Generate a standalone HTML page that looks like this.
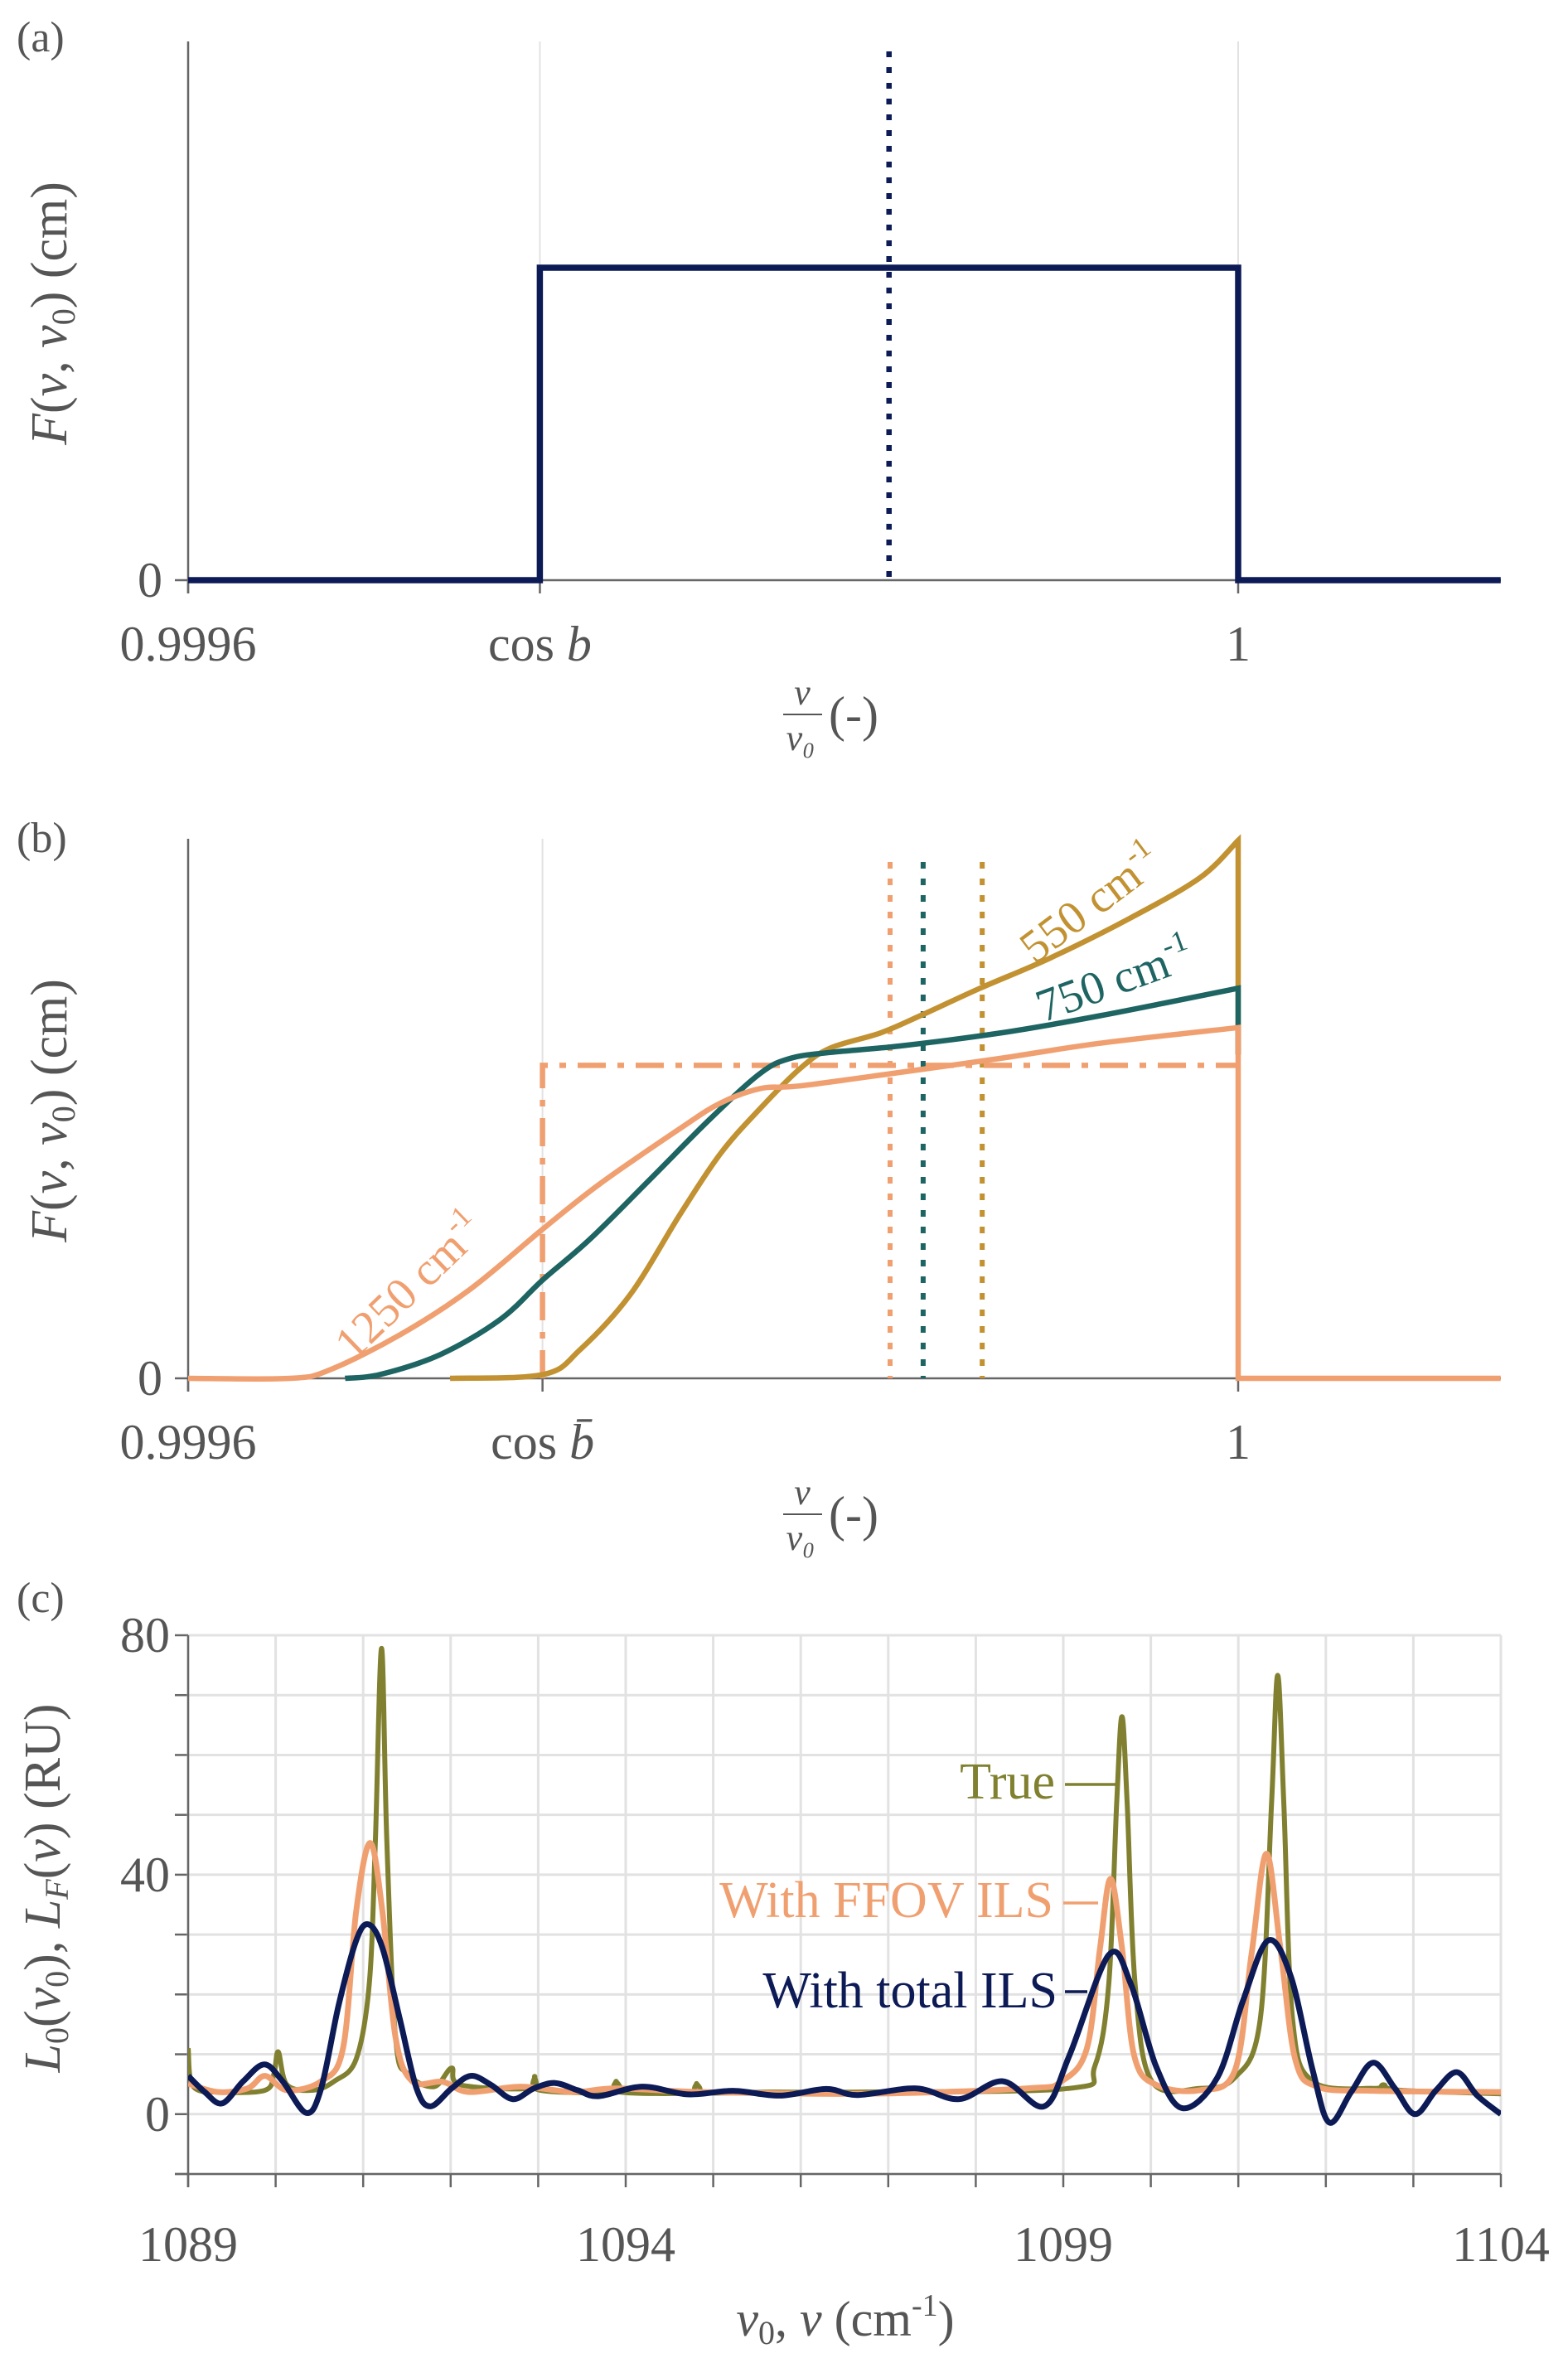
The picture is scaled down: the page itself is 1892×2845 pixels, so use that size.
<!DOCTYPE html>
<html><head><meta charset="utf-8">
<style>
html,body{margin:0;padding:0;background:#fff;}
svg{display:block;}
text{font-family:"Liberation Serif",serif;fill:#555;}
</style></head>
<body>
<svg id="fig" width="1892" height="2845" viewBox="0 0 1892 2845" xmlns="http://www.w3.org/2000/svg">
<g id="pa"></g>
<g id="pb"></g>
<g id="pc"></g>
</svg>
<script>
// ---------- Panel (a) data (x in units of 1e-4 offset from 1) ----------
const aBoxX = [-4, -2.66, -2.66, 0, 0, 1];
const aBoxY = [0, 0, 0.58, 0.58, 0, 0];
const aMeanX = [-1.33];
// ---------- Panel (b) data ----------
const b1250X = [-4, -3.611, -3.459, -3.192, -2.926, -2.648, -2.430, -2.126, -1.973, -1.821, -1.669, -1.288, -0.907, -0.526, 0];
const b1250Y = [0, 0, 0.016, 0.081, 0.165, 0.277, 0.361, 0.463, 0.510, 0.537, 0.542, 0.567, 0.593, 0.621, 0.650];
const b750X = [-3.402, -3.269, -3.040, -2.811, -2.648, -2.469, -2.240, -2.011, -1.821, -1.707, -1.554, -1.288, -0.907, -0.526, 0];
const b750Y = [0, 0.007, 0.044, 0.109, 0.183, 0.258, 0.369, 0.481, 0.565, 0.593, 0.604, 0.616, 0.640, 0.672, 0.723];
const b550X = [-3.002, -2.648, -2.507, -2.316, -2.126, -1.973, -1.821, -1.669, -1.554, -1.364, -1.211, -0.983, -0.716, -0.411, -0.145, 0];
const b550Y = [0, 0.007, 0.053, 0.155, 0.304, 0.416, 0.500, 0.574, 0.612, 0.640, 0.672, 0.723, 0.779, 0.853, 0.928, 0.997];
const bMeanX = [-1.326, -1.200, -0.975];
const bBoxX = [-2.65, -2.65, 0];
const bBoxY = [0, 0.58, 0.58];
// ---------- Panel (c) data ----------
const cTotalX = [1089, 1089.19, 1089.39, 1089.63, 1089.87, 1090.08, 1090.35, 1090.52, 1090.72, 1090.92, 1091.06, 1091.22, 1091.42, 1091.61, 1091.77, 1092.01, 1092.23, 1092.46, 1092.71, 1092.95, 1093.19, 1093.45, 1093.69, 1094.19, 1094.71, 1095.23, 1095.76, 1096.29, 1096.65, 1097.32, 1097.81, 1098.31, 1098.78, 1099.07, 1099.52, 1099.77, 1100.06, 1100.36, 1100.76, 1101.05, 1101.34, 1101.60, 1101.85, 1102.04, 1102.29, 1102.54, 1102.79, 1103.02, 1103.26, 1103.50, 1103.73, 1104];
const cTotalY = [6.4, 3.7, 1.8, 5.5, 8.3, 5.5, 0.2, 4.3, 18.2, 29, 31.7, 27.8, 15.8, 4.3, 1.3, 4.3, 6.4, 4.9, 2.5, 4.3, 5.2, 4.0, 3.0, 4.6, 3.3, 3.9, 3.1, 4.2, 3.2, 4.3, 2.5, 5.5, 1.3, 9.8, 26.6, 21.8, 8.0, 1.0, 6.1, 18.8, 29, 23, 7.3, -1.4, 3.7, 8.6, 4.3, 0, 4.0, 7.0, 3.1, 0];
const cFfovX = [1089, 1089.34, 1089.68, 1089.88, 1090.13, 1090.52, 1090.77, 1090.92, 1091.08, 1091.22, 1091.37, 1091.56, 1091.91, 1092.21, 1092.80, 1093.40, 1093.89, 1094.88, 1096.70, 1098.58, 1098.98, 1099.27, 1099.42, 1099.54, 1099.67, 1099.81, 1100.06, 1100.56, 1100.96, 1101.15, 1101.32, 1101.48, 1101.65, 1101.90, 1102.54, 1104];
const cFfovY = [5.1, 3.7, 4.3, 6.4, 4.0, 5.5, 11, 33.9, 45.3, 33.9, 12.8, 5.5, 5.4, 3.7, 4.6, 3.7, 4.3, 3.7, 3.4, 4.3, 5.5, 11, 27.8, 39.3, 27.8, 9.8, 4.9, 4.0, 7.3, 26.6, 43.5, 27.8, 9.2, 4.6, 3.9, 3.7];
const cTrueX = [1089, 1089.06, 1089.39, 1089.88, 1089.98, 1090.03, 1090.13, 1090.43, 1090.67, 1090.92, 1091.07, 1091.14, 1091.21, 1091.27, 1091.37, 1091.51, 1091.81, 1092.01, 1092.11, 1092.90, 1092.96, 1093.02, 1093.87, 1093.89, 1093.94, 1094.78, 1094.81, 1094.86, 1095.65, 1096.70, 1099.07, 1099.36, 1099.52, 1099.61, 1099.67, 1099.73, 1099.82, 1100.01, 1100.56, 1100.96, 1101.25, 1101.38, 1101.45, 1101.52, 1101.62, 1101.85, 1102.54, 1102.66, 1102.84, 1104];
const cTrueY = [11, 4.6, 3.7, 4.0, 6.7, 10.4, 4.9, 4.0, 5.5, 9.2, 21.8, 45.9, 77.8, 45.9, 12.8, 6.7, 4.6, 7.7, 4.9, 4.3, 6.3, 4.0, 3.7, 5.5, 3.7, 3.6, 5.1, 3.6, 3.7, 3.7, 4.3, 8.0, 21.8, 51.9, 66.4, 51.9, 21.8, 5.5, 4.3, 6.1, 15.8, 51.9, 73.3, 51.9, 15.8, 5.5, 4.3, 4.9, 4.0, 3.4];
const cXTicks = [1089, 1094, 1099, 1104];
const cYTicks = [0, 40, 80];

const NS = "http://www.w3.org/2000/svg";
function mk(parent, tag, attrs, txt) {
  const e = document.createElementNS(NS, tag);
  for (const k in attrs) e.setAttribute(k, attrs[k]);
  if (txt !== undefined) e.textContent = txt;
  parent.appendChild(e);
  return e;
}
function smoothPath(xs, ys, sx, sy) {
  const p = xs.map((x, i) => [sx(x), sy(ys[i])]);
  let d = "M" + p[0][0].toFixed(1) + "," + p[0][1].toFixed(1);
  for (let i = 0; i < p.length - 1; i++) {
    const p0 = p[i - 1] || p[i], p1 = p[i], p2 = p[i + 1], p3 = p[i + 2] || p2;
    const c1x = p1[0] + (p2[0] - p0[0]) / 6, c1y = p1[1] + (p2[1] - p0[1]) / 6;
    const c2x = p2[0] - (p3[0] - p1[0]) / 6, c2y = p2[1] - (p3[1] - p1[1]) / 6;
    d += " C" + c1x.toFixed(1) + "," + c1y.toFixed(1) + " " + c2x.toFixed(1) + "," + c2y.toFixed(1) + " " + p2[0].toFixed(1) + "," + p2[1].toFixed(1);
  }
  return d;
}
function linePath(xs, ys, sx, sy) {
  return xs.map((x, i) => (i ? "L" : "M") + sx(x).toFixed(1) + "," + sy(ys[i]).toFixed(1)).join(" ");
}
const AX = "#666", GRID = "#e2e2e2";
const NAVY = "#0c1a56", ORANGE = "#f0a070", TEAL = "#1d6462", GOLD = "#c29232", OLIVE = "#808030";
const L = 227, R = 1811;
const sxAB = u => L + (u + 4) * 316.75;

// ================= Panel A =================
(function () {
  const g = document.getElementById('pa');
  const y0 = 700, yTop = 50;
  const sy = v => y0 - v * (y0 - yTop);
  let e;
  [-2.66, 0].forEach(u => {
    e = mk(g, 'line', {x1: sxAB(u), x2: sxAB(u), y1: yTop, y2: y0, stroke: GRID, 'stroke-width': 2});
    
    
  });
  e = mk(g, 'line', {x1: L, x2: L, y1: yTop, y2: y0 + 16, stroke: AX, 'stroke-width': 2.5});
  
  
  e = mk(g, 'line', {x1: L - 16, x2: R, y1: y0, y2: y0, stroke: AX, 'stroke-width': 2.5});
  
  
  [[-4, '0.9996'], [-2.66, 'cos b'], [0, '1']].forEach(t => {
    e = mk(g, 'line', {x1: sxAB(t[0]), x2: sxAB(t[0]), y1: y0, y2: y0 + 16, stroke: AX, 'stroke-width': 2.5});
    
    
  });
  e = mk(g, 'text', {x: sxAB(-4), y: 797, 'font-size': 60, 'text-anchor': 'middle'}, '0.9996');
  
  
  e = mk(g, 'text', {x: sxAB(-2.66), y: 797, 'font-size': 60, 'text-anchor': 'middle'});
  e.innerHTML = 'cos <tspan font-style="italic">b</tspan>';
  
  
  e = mk(g, 'text', {x: sxAB(0), y: 797, 'font-size': 60, 'text-anchor': 'middle'}, '1');
  
  
  e = mk(g, 'text', {x: 196, y: y0 + 20, 'font-size': 60, 'text-anchor': 'end'}, '0');
  
  
  e = mk(g, 'text', {x: 20, y: 62, 'font-size': 52}, '(a)');
  
  
  e = mk(g, 'text', {x: 0, y: 0, 'font-size': 62, 'text-anchor': 'middle', transform: 'translate(80,378) rotate(-90)'});
  e.innerHTML = '<tspan font-style="italic">F</tspan>(<tspan font-style="italic">v</tspan>, <tspan font-style="italic">v</tspan><tspan font-size="40" dy="10">0</tspan><tspan dy="-10">)  (cm)</tspan>';
  
  
  const xt = mk(g, 'g', {});
  
  
  mk(xt, 'text', {x: 968, y: 850, 'font-size': 44, 'font-style': 'italic', 'text-anchor': 'middle'}, 'v');
  mk(xt, 'line', {x1: 945, x2: 992, y1: 862, y2: 862, stroke: '#555', 'stroke-width': 2});
  mk(xt, 'text', {x: 966, y: 905, 'font-size': 44, 'font-style': 'italic', 'text-anchor': 'middle'}, 'v₀');
  mk(xt, 'text', {x: 1030, y: 882, 'font-size': 60, 'text-anchor': 'middle'}, '(-)');
  e = mk(g, 'line', {x1: sxAB(aMeanX[0]), x2: sxAB(aMeanX[0]), y1: yTop + 12, y2: y0, stroke: NAVY, 'stroke-width': 6.5, 'stroke-dasharray': '7,12'});
  
  
  e = mk(g, 'path', {d: linePath(aBoxX, aBoxY, sxAB, sy), fill: 'none', stroke: NAVY, 'stroke-width': 7.5});
  
  
})();

// ================= Panel B =================
(function () {
  const g = document.getElementById('pb');
  const y0 = 1663, yTop = 1012;
  const sy = v => y0 - v * (y0 - yTop);
  let e;
  [-2.65, 0].forEach(u => {
    e = mk(g, 'line', {x1: sxAB(u), x2: sxAB(u), y1: yTop, y2: y0, stroke: GRID, 'stroke-width': 2});
    
    
  });
  e = mk(g, 'line', {x1: L, x2: L, y1: yTop, y2: y0 + 16, stroke: AX, 'stroke-width': 2.5});
  
  
  e = mk(g, 'line', {x1: L - 16, x2: R, y1: y0, y2: y0, stroke: AX, 'stroke-width': 2.5});
  
  
  [-4, -2.65, 0].forEach(u => {
    e = mk(g, 'line', {x1: sxAB(u), x2: sxAB(u), y1: y0, y2: y0 + 16, stroke: AX, 'stroke-width': 2.5});
    
    
  });
  e = mk(g, 'text', {x: sxAB(-4), y: 1760, 'font-size': 60, 'text-anchor': 'middle'}, '0.9996');
  
  
  e = mk(g, 'text', {x: sxAB(-2.65), y: 1760, 'font-size': 60, 'text-anchor': 'middle'});
  e.innerHTML = 'cos <tspan font-style="italic">b̄</tspan>';
  
  
  e = mk(g, 'text', {x: sxAB(0), y: 1760, 'font-size': 60, 'text-anchor': 'middle'}, '1');
  
  
  e = mk(g, 'text', {x: 196, y: y0 + 20, 'font-size': 60, 'text-anchor': 'end'}, '0');
  
  
  e = mk(g, 'text', {x: 20, y: 1028, 'font-size': 52}, '(b)');
  
  
  e = mk(g, 'text', {x: 0, y: 0, 'font-size': 62, 'text-anchor': 'middle', transform: 'translate(80,1340) rotate(-90)'});
  e.innerHTML = '<tspan font-style="italic">F</tspan>(<tspan font-style="italic">v</tspan>, <tspan font-style="italic">v</tspan><tspan font-size="40" dy="10">0</tspan><tspan dy="-10">)  (cm)</tspan>';
  
  
  const xt = mk(g, 'g', {});
  
  
  mk(xt, 'text', {x: 968, y: 1815, 'font-size': 44, 'font-style': 'italic', 'text-anchor': 'middle'}, 'v');
  mk(xt, 'line', {x1: 945, x2: 992, y1: 1827, y2: 1827, stroke: '#555', 'stroke-width': 2});
  mk(xt, 'text', {x: 966, y: 1870, 'font-size': 44, 'font-style': 'italic', 'text-anchor': 'middle'}, 'v₀');
  mk(xt, 'text', {x: 1030, y: 1847, 'font-size': 60, 'text-anchor': 'middle'}, '(-)');

  const meanCols = [ORANGE, TEAL, GOLD];
  bMeanX.forEach((u, i) => {
    e = mk(g, 'line', {x1: sxAB(u), x2: sxAB(u), y1: yTop + 28, y2: y0, stroke: meanCols[i], 'stroke-width': 6, 'stroke-dasharray': '8,12'});
    
    
  });
  e = mk(g, 'path', {d: linePath(bBoxX, bBoxY, sxAB, sy), fill: 'none', stroke: ORANGE, 'stroke-width': 6.5, 'stroke-dasharray': '34,14,8,14'});
  
  
  e = mk(g, 'path', {d: smoothPath(b550X, b550Y, sxAB, sy) + ' L' + sxAB(0) + ',' + sy(0.6), fill: 'none', stroke: GOLD, 'stroke-width': 6.5});
  
  
  e = mk(g, 'path', {d: smoothPath(b750X, b750Y, sxAB, sy) + ' L' + sxAB(0) + ',' + sy(0.6), fill: 'none', stroke: TEAL, 'stroke-width': 6.5});
  
  
  e = mk(g, 'path', {d: smoothPath(b1250X, b1250Y, sxAB, sy) + ' L' + sxAB(0) + ',' + sy(0) + ' L' + sxAB(1) + ',' + sy(0), fill: 'none', stroke: ORANGE, 'stroke-width': 6.5});
  
  
  const lab = [['550 cm', GOLD, 1327, 1105, -37, 'label-550'], ['750 cm', TEAL, 1351, 1200, -20, 'label-750'], ['1250 cm', ORANGE, 507, 1565, -44, 'label-1250']];
  lab.forEach(l => {
    e = mk(g, 'text', {x: 0, y: 0, 'font-size': 56, 'text-anchor': 'middle', transform: 'translate(' + l[2] + ',' + l[3] + ') rotate(' + l[4] + ')', style: 'fill:' + l[1]});
    e.innerHTML = l[0] + '<tspan font-size="36" dy="-24">-1</tspan>';
    
    
  });
})();

// ================= Panel C =================
(function () {
  const g = document.getElementById('pc');
  const yMin = -10, yMax = 80, yB = 2623, yT = 1973;
  const sx = x => L + (x - 1089) / 15 * (R - L);
  const sy = v => yB - (v - yMin) / (yMax - yMin) * (yB - yT);
  let e;
  for (let v = -10; v <= 80; v += 10) {
    e = mk(g, 'line', {x1: L, x2: R, y1: sy(v), y2: sy(v), stroke: GRID, 'stroke-width': 3});
    
    
    e = mk(g, 'line', {x1: L - 16, x2: L, y1: sy(v), y2: sy(v), stroke: AX, 'stroke-width': 2.5});
    
    
  }
  for (let x = 1089; x <= 1104; x++) {
    e = mk(g, 'line', {x1: sx(x), x2: sx(x), y1: yT, y2: yB, stroke: GRID, 'stroke-width': 3});
    
    
    e = mk(g, 'line', {x1: sx(x), x2: sx(x), y1: yB, y2: yB + 16, stroke: AX, 'stroke-width': 2.5});
    
    
  }
  e = mk(g, 'line', {x1: L, x2: L, y1: yT, y2: yB + 16, stroke: AX, 'stroke-width': 2.5});
  
  
  e = mk(g, 'line', {x1: L - 16, x2: R, y1: yB, y2: yB, stroke: AX, 'stroke-width': 2.5});
  
  
  cXTicks.forEach(t => {
    e = mk(g, 'text', {x: sx(t), y: 2728, 'font-size': 60, 'text-anchor': 'middle'}, String(t));
    
    
  });
  cYTicks.forEach(t => {
    e = mk(g, 'text', {x: 205, y: sy(t) + 20, 'font-size': 60, 'text-anchor': 'end'}, String(t));
    
    
  });
  e = mk(g, 'text', {x: 20, y: 1945, 'font-size': 52}, '(c)');
  
  
  e = mk(g, 'text', {x: 0, y: 0, 'font-size': 62, 'text-anchor': 'middle', transform: 'translate(72,2278) rotate(-90)'});
  e.innerHTML = '<tspan font-style="italic">L</tspan><tspan font-size="40" dy="10">0</tspan><tspan dy="-10">(</tspan><tspan font-style="italic">v</tspan><tspan font-size="40" dy="10">0</tspan><tspan dy="-10">), </tspan><tspan font-style="italic">L</tspan><tspan font-size="40" dy="10" font-style="italic">F</tspan><tspan dy="-10">(</tspan><tspan font-style="italic">v</tspan>)  (RU)';
  
  
  e = mk(g, 'text', {x: 1020, y: 2818, 'font-size': 60, 'text-anchor': 'middle'});
  e.innerHTML = '<tspan font-style="italic">v</tspan><tspan font-size="40" dy="10">0</tspan><tspan dy="-10">, </tspan><tspan font-style="italic">v</tspan> (cm<tspan font-size="38" dy="-24">-1</tspan><tspan dy="24">)</tspan>';
  
  
  const defs = mk(g, 'defs', {});
  const cp = mk(defs, 'clipPath', {id: 'clipC'});
  mk(cp, 'rect', {x: L, y: yT - 5, width: R - L, height: yB - yT + 5});
  const sg = mk(g, 'g', {'clip-path': 'url(#clipC)'});
  
  
  e = mk(sg, 'path', {d: smoothPath(cTrueX, cTrueY, sx, sy), fill: 'none', stroke: OLIVE, 'stroke-width': 6});
  
  
  e = mk(sg, 'path', {d: smoothPath(cFfovX, cFfovY, sx, sy), fill: 'none', stroke: ORANGE, 'stroke-width': 7});
  
  
  e = mk(sg, 'path', {d: smoothPath(cTotalX, cTotalY, sx, sy), fill: 'none', stroke: NAVY, 'stroke-width': 7});
  
  
  const labs = [['True', OLIVE, 1273, 2170, 1285, 1346, 2153, 'label-true'],
                ['With FFOV ILS', ORANGE, 1271, 2313, 1283, 1325, 2296, 'label-ffov'],
                ['With total ILS', NAVY, 1276, 2422, 1285, 1312, 2403, 'label-total']];
  labs.forEach(l => {
    e = mk(g, 'text', {x: l[2], y: l[3], 'font-size': 62, 'text-anchor': 'end', style: 'fill:' + l[1]}, l[0]);
    
    
    e = mk(g, 'line', {x1: l[4], x2: l[5], y1: l[6], y2: l[6], stroke: l[1], 'stroke-width': 3.5});
    
    
  });
})();
</script>
</body></html>
